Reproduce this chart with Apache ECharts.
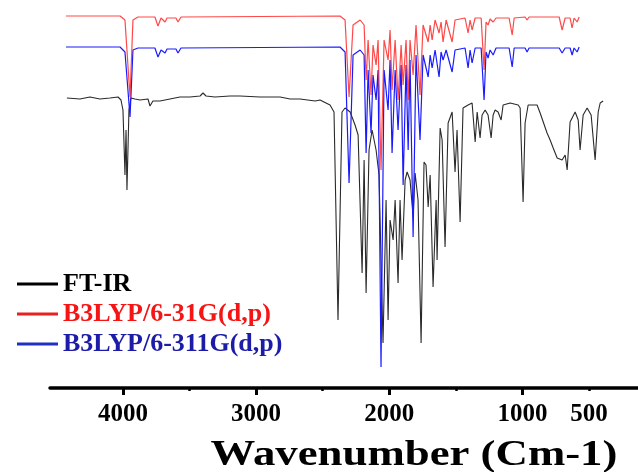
<!DOCTYPE html>
<html>
<head>
<meta charset="utf-8">
<script src="https://cdn.jsdelivr.net/npm/echarts@6/dist/echarts.min.js"></script>
<style>html,body{margin:0;padding:0;background:#fff;}#c{width:638px;height:472px;}</style>
</head>
<body>
<div id="c"></div>
<script>
// Wavenumber (cm-1) grid shared by the two calculated spectra
var calcWavenumber = [4428,4022,3985,3947,3925,3887,3760,3737,3714,3699,3684,3669,3602,3587,3564,
  2370,2332,2302,2272,2219,2189,2174,2159,2137,2122,2099,2084,2062,2039,2009,
  1994,1979,1956,1934,1911,1896,1874,1858,1844,1821,1799,1769,1746,1708,1693,
  1678,1656,1626,1611,1596,1573,1528,1506,1431,1408,1393,1378,1355,1310,1288,
  1273,1258,1243,1220,1198,1100,1077,1062,980,965,950,724,702,679,642,
  627,612,589,574];
// B3LYP/6-31G(d,p) (offset transmittance, a.u.)
var b3lyp631 = [372,372,368,291,368,371,371,362,370,370,366,370,370,366,371,
  372,368,291,363,368,363,308,348,293,343,323,348,218,348,328,
  358,298,348,288,343,303,348,288,348,313,363,293,363,346,363,
  348,368,355,366,346,368,346,368,370,355,368,358,370,370,318,
  366,363,369,366,370,370,353,370,371,368,371,371,358,370,370,
  360,370,366,371];
// B3LYP/6-311G(d,p) (offset transmittance, a.u.)
var b3lyp6311 = [341,341,336,271,338,340,340,331,338,338,335,339,339,335,340,
  341,336,205,333,338,333,235,318,255,313,288,318,21,318,278,
  328,235,318,258,323,203,323,238,328,151,333,248,333,311,333,
  320,338,311,336,328,338,316,338,340,320,338,325,340,340,288,
  336,330,338,333,340,340,321,340,340,336,340,340,335,340,340,
  333,340,336,341];
// FT-IR experimental spectrum
var ftirWavenumber = [4421,4323,4248,4173,4098,4037,4015,4000,3985,3977,3970,3955,3940,3910,3872,
  3812,3797,3775,3722,3647,3572,3497,3421,3399,3376,3309,3196,3121,2971,2820,
  2745,2670,2557,2520,2445,2415,2385,2355,2332,2294,2257,2234,2204,2189,2174,
  2152,2129,2099,2077,2047,2024,2009,1994,1971,1956,1934,1919,1904,1881,1866,
  1844,1821,1806,1784,1761,1739,1724,1708,1693,1671,1648,1641,1618,1603,1581,
  1558,1528,1506,1491,1468,1446,1408,1378,1355,1340,1318,1303,1280,1258,1235,
  1220,1205,1183,1160,1145,1092,1032,1017,995,980,957,890,867,815,792,
  769,739,702,679,664,642,604,581,567,544,514,484,454,431,416,394];
var ftirT = [290,289,291,289,290,291,288,278,213,258,198,278,290,289,288,
  289,282,287,287,289,291,291,292,295,292,291,292,292,291,291,
  289,289,287,288,283,276,68,276,280,276,263,253,115,228,95,
  238,258,238,213,45,188,68,168,148,188,105,188,128,208,216,
  208,171,215,188,45,226,223,181,213,101,188,128,260,248,141,
  265,276,216,258,166,280,283,285,246,276,250,273,278,273,250,
  273,278,276,268,283,285,283,280,186,265,283,283,275,255,248,
  240,230,228,233,218,266,276,268,238,273,280,273,228,276,285,287];
var majorTicks = [4000,3000,2000,1000,500];
var majorTickMarks = [4000,3000,2000,1000];
var minorTickMarks = [3500,2500,1500,500];
var seriesNames = ['FT-IR','B3LYP/6-31G(d,p)','B3LYP/6-311G(d,p)'];
var xTitle = 'Wavenumber (Cm-1)';

function pairs(xs, ys){ return xs.map(function(x,i){ return [x, ys[i]]; }); }

var SERIF = '"Liberation Serif","DejaVu Serif",serif';
var chart = echarts.init(document.getElementById('c'), null, {renderer:'canvas'});
var xBase = {
  type:'value', min:132, max:4548, inverse:true, position:'bottom',
  splitLine:{show:false}
};
chart.setOption({
  animation:false,
  backgroundColor:'#fff',
  grid:{left:50,right:0,top:0,bottom:84,containLabel:false},
  xAxis:[
    Object.assign({}, xBase, {
      axisLine:{show:true,lineStyle:{color:'#000',width:3.5}},
      axisTick:{show:true,customValues:majorTickMarks,length:7,lineStyle:{color:'#000',width:3}},
      axisLabel:{show:true,customValues:majorTicks,margin:14,color:'#000',
        fontFamily:SERIF,fontWeight:'bold',fontSize:25,
        formatter:function(v){ return String(v); }}
    }),
    Object.assign({}, xBase, {
      axisLine:{show:false},
      axisTick:{show:true,customValues:minorTickMarks,length:3,lineStyle:{color:'#000',width:2.5}},
      axisLabel:{show:false}
    })
  ],
  yAxis:{type:'value',min:0,max:388,show:false,splitLine:{show:false}},
  legend:{
    orient:'vertical', left:12, top:266, itemWidth:41, itemHeight:3, itemGap:4,
    icon:'rect',
    textStyle:{fontFamily:SERIF,fontWeight:'bold',fontSize:26,lineHeight:26},
    data:[
      {name:seriesNames[0],textStyle:{color:'#000'}},
      {name:seriesNames[1],textStyle:{color:'#f51515'}},
      {name:seriesNames[2],textStyle:{color:'#1c1ca8'}}
    ]
  },
  graphic:[{
    type:'text', x:414, y:456, scaleX:1.28, scaleY:1,
    style:{text:xTitle, font:'bold 35px '+SERIF, fill:'#000', textAlign:'center', textVerticalAlign:'middle'}
  }],
  series:[
    {name:seriesNames[0],type:'line',data:pairs(ftirWavenumber,ftirT),showSymbol:false,
      color:'#000',lineStyle:{color:'#2a2a2a',width:1.1},z:2},
    {name:seriesNames[2],type:'line',data:pairs(calcWavenumber,b3lyp6311),showSymbol:false,
      color:'#2030c0',lineStyle:{color:'#1a1aff',width:1.2},z:3},
    {name:seriesNames[1],type:'line',data:pairs(calcWavenumber,b3lyp631),showSymbol:false,
      color:'#e82020',lineStyle:{color:'#ff1a1a',width:1.2,opacity:0.8},z:4}
  ]
});
</script>
</body>
</html>
